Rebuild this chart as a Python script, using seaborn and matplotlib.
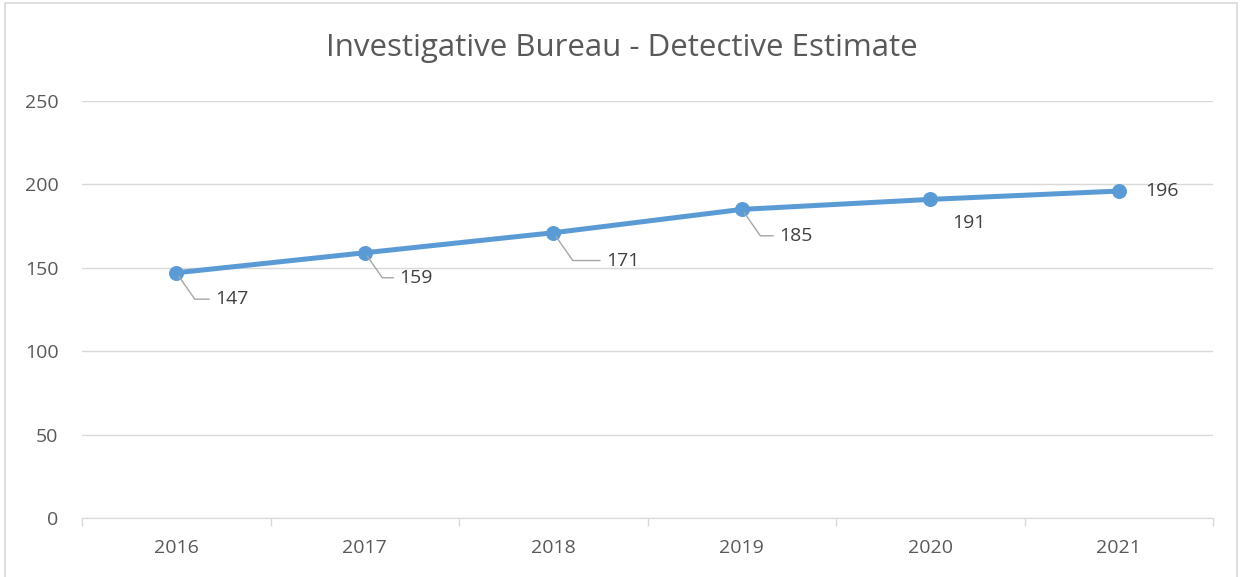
import matplotlib
matplotlib.use("Agg")
import matplotlib.pyplot as plt
import seaborn as sns
import pandas as pd

years = ['2016', '2017', '2018', '2019', '2020', '2021']
detectives = [147, 159, 171, 185, 191, 196]
# label offsets (points) and whether a leader line is drawn, as in the original
label_dx = [40, 37, 50, 39, 28, 31]
label_dy = [-19, -18, -20, -19, -17, 0]
leaders = [True, True, True, True, False, False]

df = pd.DataFrame({'Year': years, 'Detectives': detectives})

sns.set_style('white')
plt.rcParams['font.family'] = ['Open Sans', 'DejaVu Sans']

fig = plt.figure(figsize=(12.43, 5.77), dpi=100)
ax = fig.add_axes([0.066, 0.1023, 0.91, 0.7227])

blue = '#5B9BD5'
grey_txt = '#595959'

sns.lineplot(data=df, x='Year', y='Detectives', ax=ax, color=blue, lw=3.6,
             marker='o', markersize=10, markeredgecolor=blue, sort=False)

ax.set_ylim(0, 250)
ax.set_xlim(-0.5, len(years) - 0.5)
ax.set_yticks(range(0, 251, 50))
ax.yaxis.grid(True, color='#D9D9D9', lw=1)
ax.set_axisbelow(True)
for s in ['top', 'right', 'left']:
    ax.spines[s].set_visible(False)
ax.spines['bottom'].set_color('#D9D9D9')
ax.set_xlabel('')
ax.set_ylabel('')
ax.tick_params(axis='both', which='major', length=0, labelsize=14,
               labelcolor=grey_txt)
ax.tick_params(axis='x', pad=15)
ax.tick_params(axis='y', pad=17)
ax.set_xticks([i - 0.5 for i in range(len(years) + 1)], minor=True)
ax.tick_params(axis='x', which='minor', bottom=True, length=6, width=1,
               color='#D9D9D9')

for i, v in enumerate(detectives):
    arrow = None
    if leaders[i]:
        arrow = dict(arrowstyle='-', color='#A6A6A6', lw=1,
                     connectionstyle='angle,angleA=0,angleB=-55,rad=0',
                     shrinkA=2, shrinkB=3)
    ax.annotate(str(v), xy=(i, v), xytext=(label_dx[i], label_dy[i]),
                textcoords='offset points', ha='center', va='center',
                fontsize=14, color='#404040', arrowprops=arrow)

fig.text(0.5, 1 - 48 / 577, 'Investigative Bureau - Detective Estimate',
         ha='center', va='center', fontsize=22.5, color=grey_txt)

border = plt.Rectangle((0.004, -0.01), 0.991, 1.005, transform=fig.transFigure,
                       fill=False, ec='#D9D9D9', lw=1.2)
fig.patches.append(border)

fig.savefig('out.png', dpi=100)
